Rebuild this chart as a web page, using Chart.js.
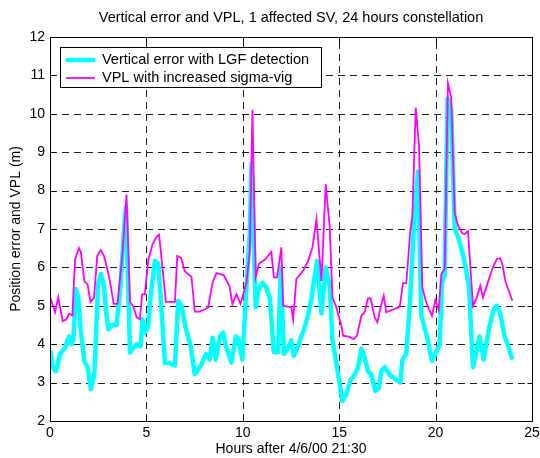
<!DOCTYPE html>
<html>
<head>
<meta charset="utf-8">
<script src="https://cdn.jsdelivr.net/npm/chart.js@4/dist/chart.umd.min.js"></script>
<style>
  html, body { margin: 0; padding: 0; background: #ffffff; }
  #wrap { width: 540px; height: 458px; }
</style>
</head>
<body>
<div id="wrap"><canvas id="c" width="540" height="458"></canvas></div>
<script>
// ---- data ----
const chartTitle = "Vertical error and VPL, 1 affected SV, 24 hours constellation";
const xTitle = "Hours after 4/6/00 21:30";
const yTitle = "Position error and VPL (m)";
const errLabel = "Vertical error with LGF detection";
const vplLabel = "VPL with increased sigma-vig";
const xTicks = [0, 5, 10, 15, 20, 25];
const yTicks = [2, 3, 4, 5, 6, 7, 8, 9, 10, 11, 12];

const errHours = [0.03, 0.14, 0.31, 0.52, 0.69, 0.78, 0.9, 1.0, 1.12, 1.21, 1.35, 1.47, 1.59, 1.78, 1.95, 2.12, 2.3, 2.5, 2.64, 2.8, 2.9, 3.02, 3.2, 3.45, 3.63, 3.89, 3.94, 4.15, 4.32, 4.49, 4.7, 4.8, 4.92, 5.09, 5.23, 5.44, 5.61, 5.73, 5.96, 6.2, 6.48, 6.65, 6.82, 7.05, 7.29, 7.51, 7.63, 7.86, 8.08, 8.29, 8.43, 8.6, 8.81, 8.98, 9.15, 9.41, 9.64, 9.76, 9.98, 10.19, 10.36, 10.45, 10.67, 10.79, 11.02, 11.19, 11.4, 11.61, 11.83, 11.97, 12.13, 12.35, 12.52, 12.64, 12.87, 13.04, 13.16, 13.39, 13.56, 13.85, 14.08, 14.3, 14.51, 14.65, 14.85, 15.03, 15.16, 15.37, 15.58, 15.8, 15.98, 16.15, 16.32, 16.49, 16.67, 16.87, 17.05, 17.19, 17.36, 17.62, 17.88, 18.17, 18.28, 18.48, 18.66, 18.92, 19.09, 19.26, 19.55, 19.81, 20.04, 20.21, 20.33, 20.47, 20.62, 20.81, 20.99, 21.16, 21.38, 21.56, 21.73, 21.94, 22.28, 22.49, 22.77, 23.01, 23.18, 23.35, 23.58, 23.8, 23.98];
const errValues = [3.83, 3.39, 3.3, 3.74, 3.85, 3.9, 4.09, 4.2, 4.0, 4.1, 5.43, 5.2, 4.39, 3.57, 3.4, 2.83, 3.22, 5.57, 5.83, 5.5, 4.9, 4.39, 4.5, 4.5, 5.35, 7.35, 7.57, 3.78, 3.9, 4.0, 3.95, 4.65, 4.3, 4.45, 5.3, 6.17, 6.1, 5.3, 3.52, 3.5, 3.45, 5.13, 5.0, 4.4, 3.96, 3.22, 3.3, 3.48, 3.74, 3.6, 4.17, 3.6, 4.2, 4.3, 3.9, 3.52, 4.2, 4.15, 3.6, 5.5, 6.87, 8.7, 4.96, 5.39, 5.6, 5.5, 5.2, 3.8, 3.8, 6.0, 3.75, 3.9, 4.1, 3.7, 3.95, 4.22, 4.35, 4.78, 5.2, 6.17, 4.8, 6.0, 5.5, 4.1, 3.5, 2.96, 2.52, 2.7, 3.05, 3.2, 3.4, 3.88, 3.65, 3.3, 3.2, 2.78, 2.85, 3.3, 3.4, 3.2, 3.1, 3.0, 3.6, 3.75, 5.0, 7.5, 8.5, 4.74, 4.2, 3.57, 3.8, 4.0, 5.6, 5.8, 10.4, 10.1, 7.0, 6.8, 6.4, 6.0, 5.5, 3.4, 4.2, 3.6, 4.4, 4.9, 5.0, 4.8, 4.2, 3.9, 3.6];

const vplHours = [0.0, 0.26, 0.43, 0.66, 0.85, 1.0, 1.16, 1.3, 1.5, 1.6, 1.78, 1.95, 2.1, 2.28, 2.45, 2.63, 2.8, 3.0, 3.16, 3.3, 3.5, 3.75, 3.97, 4.15, 4.3, 4.5, 4.66, 4.78, 4.92, 5.1, 5.32, 5.53, 5.66, 6.01, 6.35, 6.48, 6.6, 6.8, 6.99, 7.34, 7.51, 7.77, 8.2, 8.43, 8.63, 9.01, 9.32, 9.46, 9.67, 9.88, 10.19, 10.36, 10.5, 10.67, 10.84, 11.14, 11.48, 11.61, 11.78, 12.0, 12.09, 12.52, 12.61, 12.78, 13.13, 13.39, 13.61, 13.82, 14.08, 14.3, 14.51, 14.65, 14.85, 15.11, 15.2, 15.54, 15.75, 15.92, 16.15, 16.32, 16.49, 16.63, 16.84, 16.98, 17.15, 17.31, 17.44, 18.14, 18.31, 18.48, 18.69, 18.79, 18.97, 19.14, 19.31, 19.49, 19.66, 19.81, 19.99, 20.16, 20.3, 20.47, 20.64, 20.81, 20.99, 21.16, 21.38, 21.51, 21.68, 21.94, 22.14, 22.32, 22.46, 22.71, 22.97, 23.18, 23.35, 23.46, 23.63, 23.8, 23.98];
const vplValues = [5.25, 4.83, 5.22, 4.6, 4.65, 4.8, 4.75, 6.2, 6.5, 6.4, 5.65, 5.55, 5.1, 5.2, 6.3, 6.45, 6.3, 5.9, 5.5, 5.05, 5.05, 6.3, 7.9, 5.1, 5.0, 4.7, 4.65, 5.3, 5.3, 6.2, 6.6, 6.8, 6.85, 5.1, 5.1, 5.1, 6.3, 6.25, 5.9, 5.75, 4.85, 4.85, 4.95, 5.6, 5.85, 5.8, 5.5, 5.05, 5.3, 5.05, 5.6, 6.4, 10.1, 5.75, 6.1, 6.2, 6.4, 5.74, 5.74, 6.52, 5.0, 4.96, 4.65, 5.7, 5.91, 6.17, 6.52, 7.26, 5.65, 8.17, 7.04, 5.22, 4.96, 4.48, 4.22, 4.19, 4.13, 4.22, 4.74, 4.83, 5.19, 5.19, 4.7, 4.57, 4.96, 5.26, 4.83, 4.97, 5.59, 5.59, 6.96, 7.3, 10.16, 9.17, 5.48, 5.13, 4.91, 4.74, 5.15, 4.89, 5.83, 5.96, 10.8, 10.43, 7.43, 7.09, 6.89, 6.87, 6.94, 5.0, 5.22, 5.52, 5.22, 5.61, 6.0, 6.22, 6.24, 6.09, 5.61, 5.39, 5.13];

// ---- styling ----
const FONT = "'Liberation Sans', Arial, Helvetica, sans-serif";
const CYAN = "#00ffff";
const MAGENTA = "#ff00ff";

function toPoints(xs, ys) { return xs.map((x, i) => ({ x: x, y: ys[i] })); }

const framePlugin = {
  id: 'frame',
  beforeDatasetsDraw(chart) {
    const ctx = chart.ctx, a = chart.chartArea;
    const xs = chart.scales.x, ys = chart.scales.y;
    ctx.save();
    ctx.strokeStyle = '#202020';
    ctx.lineWidth = 1;
    ctx.setLineDash([7, 5]);
    xTicks.forEach(v => {
      if (v <= xs.min || v >= xs.max) return;
      const px = Math.round(xs.getPixelForValue(v)) + 0.5;
      ctx.beginPath(); ctx.moveTo(px, a.bottom); ctx.lineTo(px, a.top); ctx.stroke();
    });
    yTicks.forEach(v => {
      if (v <= ys.min || v >= ys.max) return;
      const py = Math.round(ys.getPixelForValue(v)) + 0.5;
      ctx.beginPath(); ctx.moveTo(a.left, py); ctx.lineTo(a.right, py); ctx.stroke();
    });
    ctx.restore();
  },
  afterDatasetsDraw(chart) {
    const ctx = chart.ctx, a = chart.chartArea;
    const xs = chart.scales.x, ys = chart.scales.y;
    ctx.save();
    ctx.strokeStyle = '#000000';
    ctx.lineWidth = 1;
    ctx.setLineDash([]);
    const L = Math.round(a.left) + 0.5, R = Math.round(a.right) + 0.5;
    const T = Math.round(a.top) + 0.5, B = Math.round(a.bottom) + 0.5;
    // inward ticks
    const tl = 5;
    xTicks.forEach(v => {
      const px = Math.round(xs.getPixelForValue(v)) + 0.5;
      ctx.beginPath();
      ctx.moveTo(px, B); ctx.lineTo(px, B - tl);
      ctx.moveTo(px, T); ctx.lineTo(px, T + tl);
      ctx.stroke();
    });
    yTicks.forEach(v => {
      const py = Math.round(ys.getPixelForValue(v)) + 0.5;
      ctx.beginPath();
      ctx.moveTo(L, py); ctx.lineTo(L + tl, py);
      ctx.moveTo(R, py); ctx.lineTo(R - tl, py);
      ctx.stroke();
    });
    ctx.strokeRect(L, T, R - L, B - T);

    // title, centred on plot area
    ctx.fillStyle = '#000000';
    ctx.font = '14.5px ' + FONT;
    ctx.textAlign = 'center';
    ctx.textBaseline = 'middle';
    ctx.fillText(chartTitle, (a.left + a.right) / 2, 18);

    // legend
    const bx = 60.5, by = 47.5, bw = 261, bh = 40;
    ctx.fillStyle = '#ffffff';
    ctx.fillRect(bx, by, bw, bh);
    ctx.strokeStyle = '#000000';
    ctx.lineWidth = 1;
    ctx.strokeRect(bx, by, bw, bh);
    const ds = chart.data.datasets;
    const rows = [{ d: ds[0], y: 60 }, { d: ds[1], y: 78 }];
    rows.forEach(r => {
      ctx.strokeStyle = r.d.borderColor;
      ctx.lineWidth = r.d.borderWidth;
      ctx.lineCap = 'butt';
      ctx.beginPath(); ctx.moveTo(66, r.y); ctx.lineTo(95, r.y); ctx.stroke();
      ctx.fillStyle = '#000000';
      ctx.font = '14.5px ' + FONT;
      ctx.textAlign = 'left';
      ctx.textBaseline = 'middle';
      ctx.fillText(r.d.label, 102, r.y);
    });
    ctx.restore();
  }
};

new Chart(document.getElementById('c'), {
  type: 'line',
  data: {
    datasets: [
      { label: errLabel, data: toPoints(errHours, errValues), borderColor: CYAN, backgroundColor: CYAN,
        borderWidth: 4.5, pointRadius: 0, tension: 0, order: 2, borderJoinStyle: 'round' },
      { label: vplLabel, data: toPoints(vplHours, vplValues), borderColor: MAGENTA, backgroundColor: MAGENTA,
        borderWidth: 1.8, pointRadius: 0, tension: 0, order: 1 }
    ]
  },
  options: {
    responsive: false,
    animation: false,
    devicePixelRatio: 1,
    layout: { padding: { top: 37, right: 0, left: 0, bottom: 0 } },
    plugins: { legend: { display: false }, title: { display: false }, tooltip: { enabled: false } },
    scales: {
      x: {
        type: 'linear', min: 0, max: 25,
        afterBuildTicks: s => { s.ticks = xTicks.map(v => ({ value: v })); },
        afterFit: s => { s.height = 37; s.paddingRight = 8; },
        ticks: { color: '#000', font: { family: FONT, size: 14 }, padding: 4, maxRotation: 0 },
        grid: { display: false, drawTicks: false },
        border: { display: false },
        title: { display: true, text: xTitle, color: '#000', font: { family: FONT, size: 14 }, padding: { top: 0, bottom: 0 } }
      },
      y: {
        type: 'linear', min: 2, max: 12,
        afterBuildTicks: s => { s.ticks = yTicks.map(v => ({ value: v })); },
        afterFit: s => { s.width = 50; },
        ticks: { color: '#000', font: { family: FONT, size: 14 }, padding: 5 },
        grid: { display: false, drawTicks: false },
        border: { display: false },
        title: { display: true, text: yTitle, color: '#000', font: { family: FONT, size: 14 }, padding: { top: 8, bottom: 0 } }
      }
    }
  },
  plugins: [framePlugin]
});
</script>
</body>
</html>
